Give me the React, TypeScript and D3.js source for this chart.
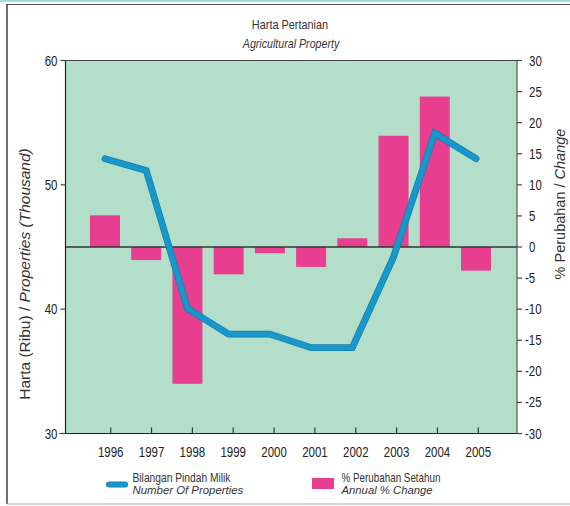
import { useEffect, useRef } from 'react'
import * as d3 from 'd3'

const years = ['1996', '1997', '1998', '1999', '2000', '2001', '2002', '2003', '2004', '2005']
const properties = [52.1, 51.15, 40.05, 38.0, 38.0, 36.9, 36.9, 44.2, 54.15, 52.1]
const annualChange = [5.1, -2.1, -22.0, -4.4, -1.0, -3.2, 1.4, 17.9, 24.2, -3.8]
const leftTicks = [30, 40, 50, 60]
const rightTicks = [-30, -25, -20, -15, -10, -5, 0, 5, 10, 15, 20, 25, 30]

const W = 570
const H = 506
const SANS = '"Liberation Sans", Arial, sans-serif'
const GREEN = '#b3dfca'
const PINK = '#e83e8f'
const BLUE = '#1898ca'
const BLUE_EDGE = '#167fab'
const INK = '#222'
const SQUEEZE = 0.82 // no condensed face installed, so squeeze Liberation Sans

type G = d3.Selection<SVGGElement | SVGSVGElement, unknown, null, undefined>

function narrowText(parent: G, x: number, y: number, label: string, size: number, anchor = 'start') {
  return parent
    .append('text')
    .attr('transform', `translate(${x},${y}) scale(${SQUEEZE},1)`)
    .attr('text-anchor', anchor)
    .attr('font-family', SANS)
    .attr('font-size', size)
    .attr('fill', INK)
    .text(label)
}

export default function App() {
  const svgRef = useRef<SVGSVGElement | null>(null)

  useEffect(() => {
    const svgElement = svgRef.current
    if (!svgElement) return
    const svg = d3.select(svgElement) as unknown as G
    svg.selectAll('*').remove()

    const plot = { left: 65.5, right: 517, top: 60.5, bottom: 433.5 }

    const yLeft = d3.scaleLinear().domain([30, 60]).range([plot.bottom, plot.top])
    const yRight = d3.scaleLinear().domain([-30, 30]).range([plot.bottom, plot.top])
    // bars + line sit a few px left of the tick marks, as in the original
    const xMark = d3.scalePoint<string>().domain(years).range([105, 476])
    const xTick = d3.scalePoint<string>().domain(years).range([110.7, 478.3])
    const barWidth = 30

    // outer frame
    svg.append('rect').attr('x', 0).attr('y', 0).attr('width', W).attr('height', 2).attr('fill', '#a6d9e0')
    svg.append('line').attr('x1', 7).attr('x2', W).attr('y1', 4.5).attr('y2', 4.5).attr('stroke', '#555').attr('stroke-width', 1.2)
    svg.append('line').attr('x1', 7).attr('x2', 7).attr('y1', 4).attr('y2', 504).attr('stroke', '#111').attr('stroke-width', 1.2)
    svg.append('line').attr('x1', 7).attr('x2', W).attr('y1', 504).attr('y2', 504).attr('stroke', '#aaa').attr('stroke-width', 1.2)

    // title
    narrowText(svg, 290, 29, 'Harta Pertanian', 13.3, 'middle').attr('fill', '#333')
    narrowText(svg, 291, 48, 'Agricultural Property', 13, 'middle').attr('fill', '#333').attr('font-style', 'italic')

    // plot background
    svg.append('rect')
      .attr('x', plot.left).attr('y', plot.top)
      .attr('width', plot.right - plot.left).attr('height', plot.bottom - plot.top)
      .attr('fill', GREEN)

    // bars
    svg.append('g').selectAll('rect').data(annualChange).join('rect')
      .attr('x', (_, i) => (xMark(years[i]) as number) - barWidth / 2)
      .attr('width', barWidth)
      .attr('y', (d) => yRight(Math.max(0, d)))
      .attr('height', (d) => Math.abs(yRight(d) - yRight(0)))
      .attr('fill', PINK)

    // zero line
    svg.append('line')
      .attr('x1', plot.left).attr('x2', plot.right)
      .attr('y1', yRight(0)).attr('y2', yRight(0))
      .attr('stroke', '#333').attr('stroke-width', 1.3)

    // line series
    const line = d3.line<number>()
      .x((_, i) => xMark(years[i]) as number)
      .y((d) => yLeft(d))
    svg.append('path').datum(properties).attr('d', line).attr('fill', 'none')
      .attr('stroke', BLUE_EDGE).attr('stroke-width', 6.8).attr('stroke-linecap', 'round').attr('stroke-linejoin', 'miter')
    svg.append('path').datum(properties).attr('d', line).attr('fill', 'none')
      .attr('stroke', BLUE).attr('stroke-width', 5.2).attr('stroke-linecap', 'round').attr('stroke-linejoin', 'miter')

    // plot frame
    svg.append('line').attr('x1', plot.left).attr('x2', plot.right).attr('y1', plot.top).attr('y2', plot.top).attr('stroke', '#444').attr('stroke-width', 1.2)
    svg.append('line').attr('x1', plot.left - 6).attr('x2', plot.right).attr('y1', plot.bottom).attr('y2', plot.bottom).attr('stroke', '#222').attr('stroke-width', 1.2)
    svg.append('line').attr('x1', plot.left).attr('x2', plot.left).attr('y1', plot.top).attr('y2', plot.bottom).attr('stroke', '#222').attr('stroke-width', 1.2)
    svg.append('line').attr('x1', plot.right).attr('x2', plot.right).attr('y1', plot.top).attr('y2', plot.bottom).attr('stroke', '#555').attr('stroke-width', 1.2)

    // left axis
    const gl = svg.append('g') as unknown as G
    gl.selectAll('line').data(leftTicks).join('line')
      .attr('x1', plot.left - 5).attr('x2', plot.left)
      .attr('y1', (d) => yLeft(d)).attr('y2', (d) => yLeft(d))
      .attr('stroke', '#444').attr('stroke-width', 1.2)
    leftTicks.forEach((t) => narrowText(gl, plot.left - 8, yLeft(t) + 5, String(t), 14, 'end'))

    // right axis: digits left-aligned, minus sign hangs to the left
    const gr = svg.append('g') as unknown as G
    gr.selectAll('line').data(rightTicks).join('line')
      .attr('x1', plot.right).attr('x2', plot.right + 5)
      .attr('y1', (d) => yRight(d)).attr('y2', (d) => yRight(d))
      .attr('stroke', '#444').attr('stroke-width', 1.2)
    rightTicks.forEach((t) =>
      narrowText(gr, t < 0 ? plot.right + 8 : plot.right + 12, yRight(t) + 5, String(t), 14),
    )

    // x axis ticks (pointing up into the plot)
    const gx = svg.append('g') as unknown as G
    gx.selectAll('line').data(years).join('line')
      .attr('x1', (d) => xTick(d) as number).attr('x2', (d) => xTick(d) as number)
      .attr('y1', plot.bottom - 6).attr('y2', plot.bottom)
      .attr('stroke', '#333').attr('stroke-width', 1.2)
    years.forEach((y) => narrowText(gx, xTick(y) as number, 457, y, 14, 'middle'))

    // axis titles
    const lt = svg.append('text')
      .attr('transform', 'translate(30,274) rotate(-90)')
      .attr('text-anchor', 'middle').attr('font-family', SANS).attr('font-size', 15.5).attr('fill', '#333')
    lt.append('tspan').text('Harta (Ribu) / ')
    lt.append('tspan').attr('font-style', 'italic').text('Properties (Thousand)')

    const rt = svg.append('text')
      .attr('transform', 'translate(565,204) rotate(-90)')
      .attr('text-anchor', 'middle').attr('font-family', SANS).attr('font-size', 14.5).attr('fill', '#333')
    rt.append('tspan').text('% Perubahan / ')
    rt.append('tspan').attr('font-style', 'italic').text('Change')

    // legend
    const lg = svg.append('g') as unknown as G
    lg.append('line').attr('x1', 109).attr('x2', 125).attr('y1', 484.5).attr('y2', 484.5)
      .attr('stroke', BLUE_EDGE).attr('stroke-width', 6).attr('stroke-linecap', 'round')
    lg.append('line').attr('x1', 109).attr('x2', 125).attr('y1', 484.5).attr('y2', 484.5)
      .attr('stroke', BLUE).attr('stroke-width', 4.6).attr('stroke-linecap', 'round')
    narrowText(lg, 132.5, 481.5, 'Bilangan Pindah Milik', 12.5).attr('fill', '#333')
    lg.append('text').attr('x', 132.5).attr('y', 494).attr('font-family', SANS).attr('font-size', 11.4).attr('font-style', 'italic').attr('fill', '#333').text('Number Of Properties')

    lg.append('rect').attr('x', 312).attr('y', 478).attr('width', 22).attr('height', 11).attr('fill', PINK)
    narrowText(lg, 341.5, 481.5, '% Perubahan Setahun', 12).attr('fill', '#333')
    lg.append('text').attr('x', 341.5).attr('y', 494).attr('font-family', SANS).attr('font-size', 11.3).attr('font-style', 'italic').attr('fill', '#333').text('Annual % Change')
  }, [])

  return (
    <svg
      ref={svgRef}
      width={W}
      height={H}
      viewBox={`0 0 ${W} ${H}`}
      style={{ position: 'absolute', left: 0, top: 0, background: '#fff' }}
    />
  )
}
